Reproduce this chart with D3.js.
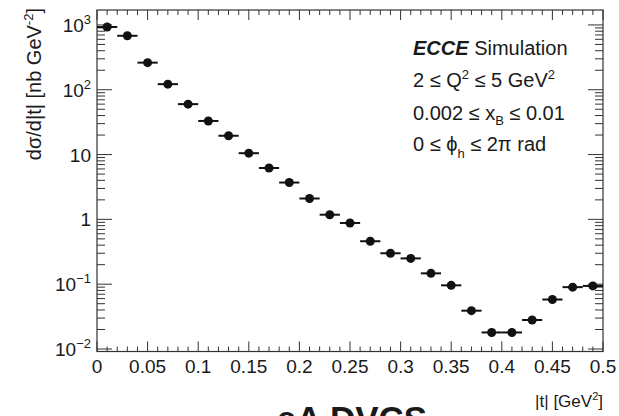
<!DOCTYPE html>
<html>
<head>
<meta charset="utf-8">
<script src="https://cdn.jsdelivr.net/npm/d3@7"></script>
<style>
  body { margin: 0; background: #fff; }
  text { font-family: "Liberation Sans", Arial, sans-serif; fill: #1a1a1a; }
</style>
</head>
<body>
<div id="chart"></div>
<script>
// bin centres of |t| (GeV^2), bin width 0.02
const tCentres = [0.01, 0.03, 0.05, 0.07, 0.09, 0.11, 0.13, 0.15, 0.17, 0.19,
  0.21, 0.23, 0.25, 0.27, 0.29, 0.31, 0.33, 0.35, 0.37, 0.39,
  0.41, 0.43, 0.45, 0.47, 0.49];
// dsigma/d|t| in nb GeV^-2
const xsec = [930, 680, 262, 122, 60, 33, 19.5, 10.5, 6.2, 3.7,
  2.1, 1.18, 0.88, 0.46, 0.30, 0.25, 0.147, 0.096, 0.039, 0.018,
  0.018, 0.028, 0.058, 0.090, 0.094];
const binWidth = 0.02;

const xTicks = [0, 0.05, 0.1, 0.15, 0.2, 0.25, 0.3, 0.35, 0.4, 0.45, 0.5];
const yTicks = [1000, 100, 10, 1, 0.1, 0.01];
const yTickLabels = [["10", "3"], ["10", "2"], ["10", null], ["1", null], ["10", "\u22121"], ["10", "\u22122"]];

const width = 619, height = 416;
const margin = { top: 10, right: 16, bottom: 64.5, left: 97 };

const svg = d3.select("#chart")
  .append("svg")
  .attr("width", width)
  .attr("height", height);

const x = d3.scaleLinear()
  .domain([0, 0.5])
  .range([margin.left, width - margin.right]);

const y = d3.scaleLog()
  .domain([0.00915, 1700])
  .range([height - margin.bottom, margin.top]);

const x0 = x.range()[0], x1 = x.range()[1];
const y0 = y.range()[0], y1 = y.range()[1];

// ticks on all four sides, ROOT style (pointing inwards)
const tickG = svg.append("g").attr("stroke", "#333").attr("stroke-width", 1);
const xMinor = d3.range(0, 0.5001, 0.01);
xMinor.forEach(function(v, i) {
  const len = (i % 5 === 0) ? 10 : 5;
  const px = x(v);
  tickG.append("line").attr("x1", px).attr("x2", px).attr("y1", y0).attr("y2", y0 - len);
  tickG.append("line").attr("x1", px).attr("x2", px).attr("y1", y1).attr("y2", y1 + len);
});

const yMinor = [];
for (let e = -3; e <= 3; e++) {
  for (let m = 1; m <= 9; m++) {
    const v = m * Math.pow(10, e);
    if (v >= y.domain()[0] && v <= y.domain()[1]) yMinor.push({ v: v, major: m === 1 });
  }
}
yMinor.forEach(function(d) {
  const len = d.major ? 15 : 8;
  const py = y(d.v);
  tickG.append("line").attr("x1", x0).attr("x2", x0 + len).attr("y1", py).attr("y2", py);
  tickG.append("line").attr("x1", x1).attr("x2", x1 - len).attr("y1", py).attr("y2", py);
});

// frame
svg.append("rect")
  .attr("x", x0).attr("y", y1)
  .attr("width", x1 - x0).attr("height", y0 - y1)
  .attr("fill", "none").attr("stroke", "#333").attr("stroke-width", 1.2);

// x tick labels
svg.append("g").selectAll("text")
  .data(xTicks)
  .enter()
  .append("text")
  .attr("x", function(d) { return x(d); })
  .attr("y", y0 + 21)
  .attr("text-anchor", "middle")
  .style("font-size", "19px")
  .text(function(d) { return d === 0 ? "0" : String(d); });

// y tick labels
yTicks.forEach(function(v, i) {
  const lab = yTickLabels[i];
  const t = svg.append("text")
    .attr("x", x0 - 6)
    .attr("y", y(v) + 7)
    .attr("text-anchor", "end")
    .style("font-size", "19px");
  t.append("tspan").text(lab[0]);
  if (lab[1]) {
    t.append("tspan").attr("dy", -8).style("font-size", "13px").text(lab[1]);
  }
});

// axis titles
const yTitle = svg.append("text")
  .attr("transform", "translate(41,8) rotate(-90)")
  .attr("text-anchor", "end")
  .style("font-size", "20px");
yTitle.append("tspan").text("d\u03c3/d|t| [nb GeV");
yTitle.append("tspan").attr("dy", -8).style("font-size", "13px").text("-2");
yTitle.append("tspan").attr("dy", 8).text("]");

const xTitle = svg.append("text")
  .attr("x", x1)
  .attr("y", 407)
  .attr("text-anchor", "end")
  .style("font-size", "17px");
xTitle.append("tspan").text("|t| [GeV");
xTitle.append("tspan").attr("dy", -7).style("font-size", "11px").text("2");
xTitle.append("tspan").attr("dy", 7).text("]");

// caption, cut by the bottom edge as in the original
svg.append("text")
  .attr("x", 352)
  .attr("y", 431)
  .attr("text-anchor", "middle")
  .style("font-size", "35px")
  .style("font-weight", "bold")
  .text("eA DVCS");

// labels block
const lx = 413;
const l1 = svg.append("text").attr("x", lx).attr("y", 55).style("font-size", "20px");
l1.append("tspan").style("font-weight", "bold").style("font-style", "italic").text("ECCE");
l1.append("tspan").text(" Simulation");

const l2 = svg.append("text").attr("x", lx).attr("y", 87).style("font-size", "20px");
l2.append("tspan").text("2 \u2264 Q");
l2.append("tspan").attr("dy", -8).style("font-size", "13px").text("2");
l2.append("tspan").attr("dy", 8).text(" \u2264 5 GeV");
l2.append("tspan").attr("dy", -8).style("font-size", "13px").text("2");

const l3 = svg.append("text").attr("x", lx).attr("y", 120).style("font-size", "20px");
l3.append("tspan").text("0.002 \u2264 x");
l3.append("tspan").attr("dy", 5).style("font-size", "13px").text("B");
l3.append("tspan").attr("dy", -5).text(" \u2264 0.01");

const l4 = svg.append("text").attr("x", lx).attr("y", 151).style("font-size", "20px");
l4.append("tspan").text("0 \u2264 \u03d5");
l4.append("tspan").attr("dy", 7).style("font-size", "13px").text("h");
l4.append("tspan").attr("dy", -7).text(" \u2264 2\u03c0 rad");

// data points with horizontal bin-width bars
const pts = tCentres.map(function(t, i) { return { t: t, v: xsec[i] }; });
const dataG = svg.append("g");
dataG.selectAll("line")
  .data(pts)
  .enter()
  .append("line")
  .attr("x1", function(d) { return x(d.t - binWidth / 2); })
  .attr("x2", function(d) { return x(d.t + binWidth / 2); })
  .attr("y1", function(d) { return y(d.v); })
  .attr("y2", function(d) { return y(d.v); })
  .attr("stroke", "#111")
  .attr("stroke-width", 2);
dataG.selectAll("circle")
  .data(pts)
  .enter()
  .append("circle")
  .attr("cx", function(d) { return x(d.t); })
  .attr("cy", function(d) { return y(d.v); })
  .attr("r", 4.5)
  .attr("fill", "#111");
</script>
</body>
</html>
